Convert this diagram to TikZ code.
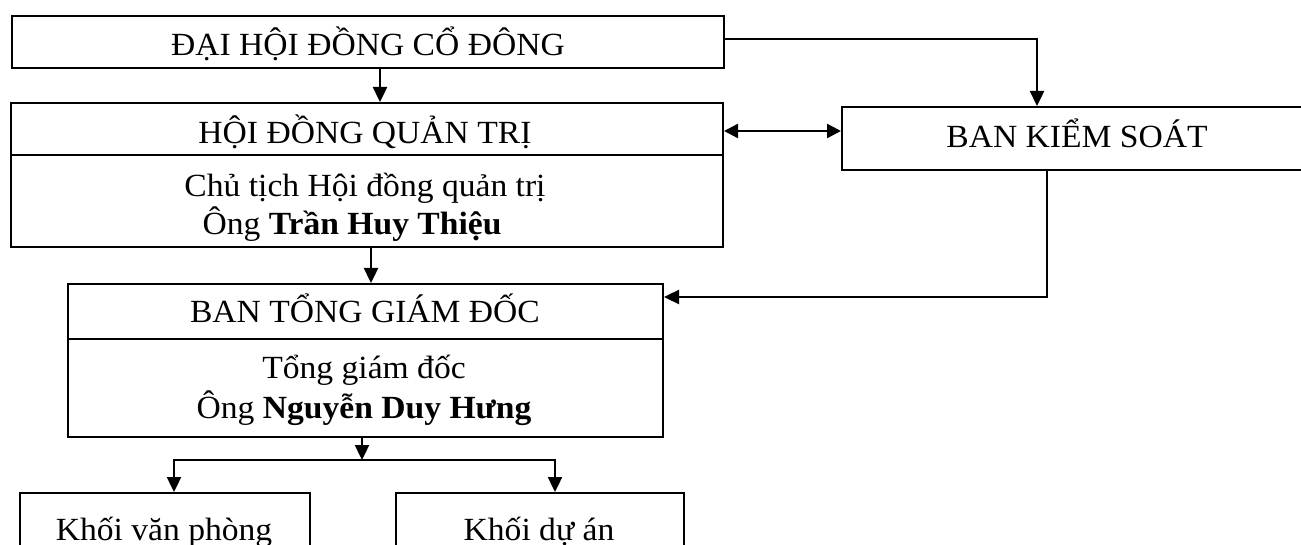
\documentclass[tikz,border=0pt]{standalone}
\usepackage{fontspec}
\setmainfont[FakeStretch=1.04]{Liberation Serif}
\usetikzlibrary{arrows.meta}
\begin{document}
\begin{tikzpicture}[x=1pt,y=-1pt,
  box/.style={draw, line width=2pt, rectangle, inner sep=0pt, anchor=north west},
  lbl/.style={anchor=base, inner sep=0pt, font=\fontsize{32.3}{36}\selectfont},
  conn/.style={line width=2.4pt},
  arr/.style={conn, -{Triangle[length=15pt,width=14pt]}},
  arrboth/.style={conn, {Triangle[length=14pt,width=14pt]}-{Triangle[length=14pt,width=14pt]}}]
\useasboundingbox (0,0) rectangle (1301,545);
\clip (0,0) rectangle (1301,545);

% boxes
\node[box, minimum width=712pt, minimum height=52pt] (dhcd) at (11,15) {};
\node[box, minimum width=712pt, minimum height=52pt] (hdqth) at (10,102) {};
\node[box, minimum width=712pt, minimum height=92pt] (hdqtb) at (10,154) {};
\node[box, minimum width=480pt, minimum height=63pt] (bks) at (841,106) {};
\node[box, minimum width=595pt, minimum height=55pt] (btgdh) at (67,283) {};
\node[box, minimum width=595pt, minimum height=98pt] (btgdb) at (67,338) {};
\node[box, minimum width=290pt, minimum height=80pt] (kvp) at (19,492) {};
\node[box, minimum width=288pt, minimum height=80pt] (kda) at (395,492) {};

% texts
\node[lbl] (t1) at (368,56) {ĐẠI HỘI ĐỒNG CỔ ĐÔNG};
\node[lbl] (t2) at (365,144) {HỘI ĐỒNG QUẢN TRỊ};
\node[lbl] (t3) at (365,197) {Chủ tịch Hội đồng quản trị};
\node[lbl] (t4) at (352,235) {Ông \textbf{Trần Huy Thiệu}};
\node[lbl] (t5) at (1077,148) {BAN KIỂM SOÁT};
\node[lbl] (t6) at (365,323) {BAN TỔNG GIÁM ĐỐC};
\node[lbl] (t7) at (364,378) {Tổng giám đốc};
\node[lbl] (t8) at (364,418) {Ông \textbf{Nguyễn Duy Hưng}};
\node[lbl] (t9) at (164,540) {Khối văn phòng};
\node[lbl] (t10) at (539,540) {Khối dự án};

% helper coordinates
\coordinate (c1) at (380,0);
\coordinate (c2) at (1037,39);
\coordinate (c3) at (0,131);
\coordinate (c4) at (371,0);
\coordinate (c5) at (1047,297);
\coordinate (j) at (362,460);
\coordinate (jl) at (174,460);
\coordinate (jr) at (555,460);

% connectors
\draw[arr] (dhcd.south -| c1) -- (hdqth.north -| c1);
\draw[arr] (dhcd.east |- c2) -| (bks.north -| c2);
\draw[arrboth] (hdqth.east |- c3) -- (bks.west |- c3);
\draw[arr] (hdqtb.south -| c4) -- (btgdh.north -| c4);
\draw[arr] (bks.south -| c5) |- (btgdh.east |- c5);
\draw[arr] (btgdb.south -| j) -- (j);
\draw[arr] (j) -| (kvp.north -| jl);
\draw[arr] (j) -| (kda.north -| jr);
\end{tikzpicture}
\end{document}
